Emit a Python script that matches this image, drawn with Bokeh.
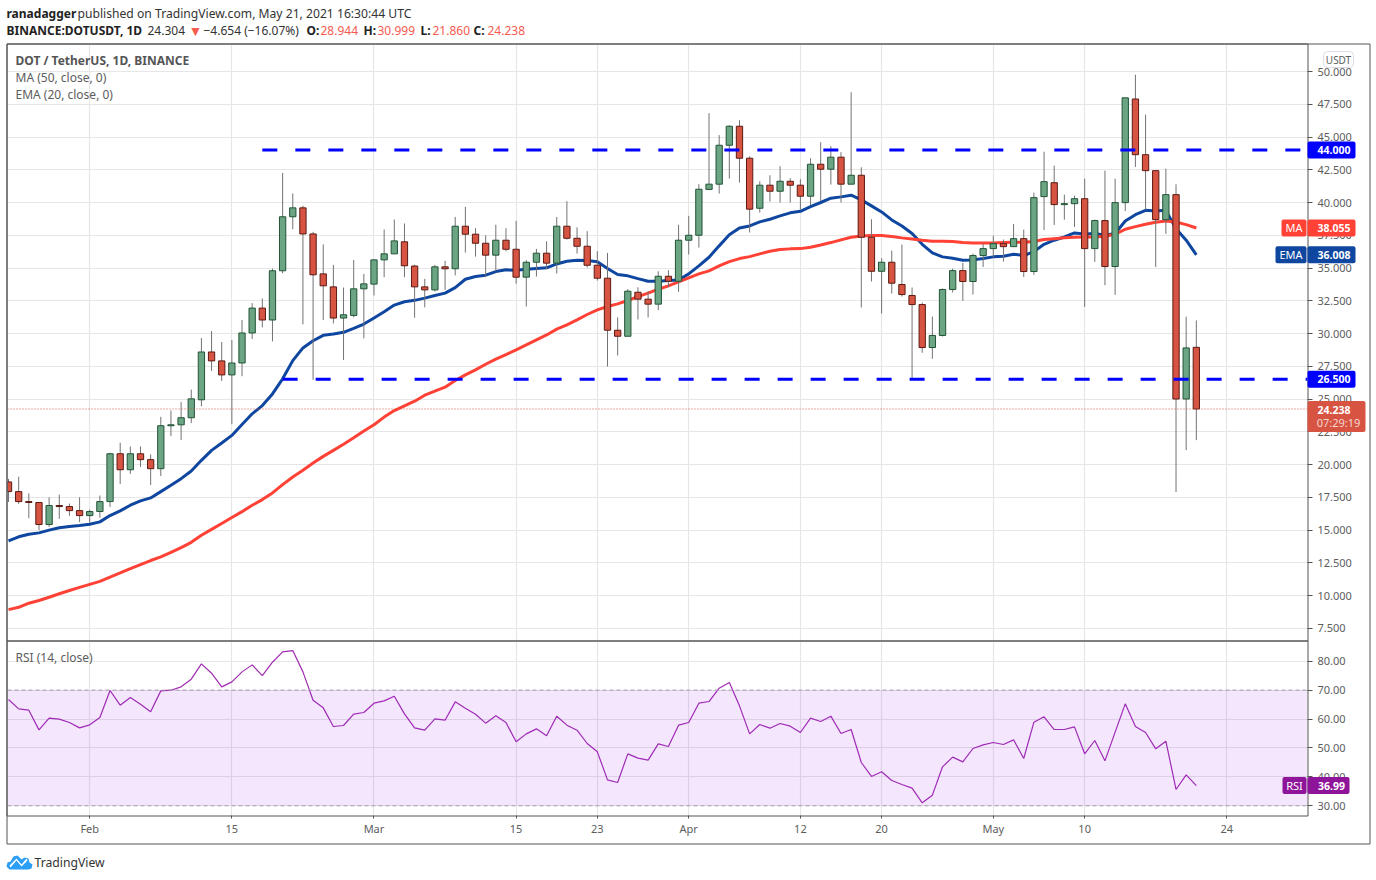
from bokeh.plotting import figure
from bokeh.layouts import column
from bokeh.models import (Range1d, FixedTicker, NumeralTickFormatter, Label, BoxAnnotation, Span,
                          PolyAnnotation, ColumnDataSource)
from bokeh.embed import file_html
from bokeh.resources import INLINE

# daily candles, first one is 24 Jan 2021, last one 21 May 2021
opens = [18.67,17.93,17.17,17.10,15.42,16.87,16.79,16.48,16.10,16.41,17.17,20.82,19.60,20.82,20.37,19.68,22.96,23.03,23.57,24.94,
         28.59,27.91,26.84,27.75,30.04,31.94,31.03,34.79,38.91,39.59,37.60,34.55,33.56,31.18,31.38,33.41,33.77,35.62,36.08,37.00,
         35.15,33.56,33.33,35.09,34.94,38.19,37.58,36.89,35.98,37.12,36.43,34.30,35.44,36.13,35.37,38.19,37.27,36.66,35.21,34.22,
         30.25,29.79,33.15,32.62,32.24,34.37,33.99,37.12,37.50,41.00,41.40,44.37,45.82,43.38,39.56,41.32,40.86,41.62,41.32,40.48,
         42.92,42.54,43.46,41.40,42.08,37.35,34.75,35.44,33.74,32.90,32.21,28.93,29.85,33.36,34.80,33.97,35.95,36.48,36.86,36.63,
         37.24,34.73,40.45,41.51,39.84,39.91,40.29,36.48,38.62,35.11,39.99,47.90,43.65,42.43,38.69,40.60,25.00,28.944]
closes = [17.93,17.17,17.10,15.42,16.87,16.79,16.48,16.10,16.41,17.17,20.82,19.60,20.82,20.37,19.68,22.96,23.03,23.57,25.01,28.59,
          27.91,26.84,27.75,30.04,31.94,31.03,34.79,38.91,39.59,37.60,34.48,33.64,31.18,31.43,33.41,33.79,35.62,36.08,37.07,35.17,
          33.56,33.33,35.09,34.94,38.19,37.58,36.89,35.98,37.12,36.43,34.30,35.44,36.13,35.37,38.19,37.27,36.66,35.21,34.22,30.25,
          29.79,33.23,32.62,32.24,34.37,33.99,37.12,37.50,41.01,41.40,44.37,45.82,43.38,39.49,41.32,40.86,41.62,41.32,40.48,42.92,
          42.54,43.46,41.40,42.08,37.35,34.75,35.44,33.84,32.97,32.21,28.93,29.85,33.36,34.80,33.97,35.95,36.48,36.86,36.63,37.24,
          34.73,40.37,41.59,39.84,39.91,40.29,36.48,38.62,35.11,39.99,47.99,43.65,42.43,38.69,40.60,25.00,28.90,24.238]
highs = [18.90,19.07,17.80,17.10,17.50,17.70,17.02,17.50,16.56,17.63,20.90,21.66,21.38,21.38,20.77,23.64,24.12,24.78,25.72,29.66,
         30.19,29.35,29.50,31.03,32.32,32.67,34.96,42.26,40.69,39.75,37.76,36.80,35.24,33.51,35.62,34.55,35.65,37.94,38.70,38.40,
         35.24,34.17,35.24,35.55,38.90,39.67,38.04,37.50,38.30,38.04,38.60,35.60,36.46,37.04,38.90,40.10,38.10,37.81,36.28,36.15,
         31.24,33.38,33.53,33.23,34.75,34.83,38.30,38.98,41.40,46.82,45.14,45.90,46.28,43.53,41.62,42.08,42.77,41.85,41.78,43.38,
         44.60,44.30,43.84,48.42,42.69,38.72,35.75,36.33,36.79,33.51,32.36,31.30,33.43,34.96,35.39,36.10,36.86,37.47,37.17,38.36,
         37.93,40.75,43.88,42.81,40.60,40.52,41.82,38.69,42.43,41.82,47.99,49.75,46.70,42.43,42.58,41.39,31.28,30.999]
lows = [17.14,16.99,15.90,15.00,15.24,15.85,16.08,15.60,15.55,15.93,16.76,18.52,19.28,19.81,18.44,19.12,22.17,21.87,23.16,24.45,
        27.14,26.38,23.08,26.74,29.58,30.47,29.40,34.60,37.96,30.70,26.46,31.03,30.77,27.98,31.23,29.63,32.90,34.30,36.08,34.30,
        31.20,32.00,33.20,33.33,34.43,36.18,35.87,34.30,34.75,36.28,33.81,32.06,34.35,34.91,34.58,37.17,36.10,35.03,34.04,27.48,
        28.32,29.79,31.07,31.22,31.78,33.53,33.18,36.03,36.56,40.94,40.68,41.83,41.52,37.71,39.23,40.07,40.00,40.00,39.41,39.79,
        40.10,41.37,40.00,41.40,31.98,33.97,31.52,33.05,32.82,26.50,28.53,28.07,29.77,33.13,32.49,32.97,35.08,35.80,35.49,36.63,
        34.32,34.47,37.90,38.29,38.69,38.13,32.03,35.47,33.69,32.95,39.35,42.71,39.45,35.08,37.60,17.90,21.10,21.860]
ema20 = [14.17,14.48,14.68,14.78,14.99,15.17,15.27,15.34,15.44,15.62,16.10,16.46,16.89,17.22,17.45,17.93,18.41,18.92,19.50,20.32,
         21.08,21.64,22.22,23.06,23.87,24.50,25.39,26.54,27.93,28.90,29.45,29.86,29.96,30.09,30.39,30.72,31.18,31.66,32.17,32.42,
         32.53,32.70,32.90,33.08,33.50,34.14,34.35,34.45,34.73,34.86,34.83,34.91,34.96,35.01,35.31,35.52,35.60,35.57,35.47,34.96,
         34.50,34.40,34.19,33.99,33.99,34.04,34.09,34.55,35.16,35.82,36.69,37.53,38.06,38.21,38.52,38.72,38.98,39.21,39.33,39.69,
         40.00,40.33,40.43,40.56,40.20,39.74,39.28,38.67,38.21,37.63,36.81,36.15,35.85,35.74,35.59,35.62,35.72,35.85,35.90,36.05,
         35.95,36.25,36.81,37.12,37.37,37.68,37.60,37.63,37.50,37.63,38.59,39.07,39.40,39.35,39.40,38.00,37.12,36.008]
ma50 = [8.92,9.10,9.41,9.62,9.87,10.13,10.38,10.62,10.85,11.08,11.41,11.72,12.05,12.36,12.67,12.95,13.30,13.65,14.06,14.60,
        15.05,15.50,15.95,16.40,16.89,17.32,17.83,18.46,19.05,19.56,20.11,20.62,21.08,21.54,22.04,22.55,23.03,23.62,24.12,24.48,
        24.83,25.29,25.60,25.90,26.41,26.84,27.22,27.65,28.04,28.39,28.75,29.13,29.51,29.89,30.33,30.66,31.04,31.45,31.80,32.06,
        32.26,32.52,32.82,33.08,33.38,33.63,33.94,34.25,34.55,34.78,35.16,35.49,35.72,35.87,36.08,36.28,36.41,36.46,36.48,36.59,
        36.76,36.94,37.15,37.35,37.45,37.48,37.48,37.40,37.30,37.22,37.12,37.04,37.04,37.02,36.94,36.91,36.91,36.91,36.94,36.96,
        36.96,37.02,37.17,37.24,37.30,37.35,37.37,37.37,37.42,37.57,37.96,38.16,38.34,38.49,38.59,38.51,38.31,38.055]
rsi14 = [66.75,63.50,63.06,56.26,60.30,59.95,58.80,56.95,58.00,60.53,69.86,64.80,67.44,65.13,62.49,69.74,69.97,71.13,73.78,79.08,
         75.85,71.13,72.85,76.31,78.73,75.04,79.65,83.22,83.68,76.31,66.52,63.87,57.42,57.76,61.68,62.26,65.48,66.29,67.90,61.80,
         56.95,56.15,60.07,59.61,65.94,63.75,61.68,58.57,61.10,58.80,52.12,54.88,56.61,54.19,60.99,57.88,56.15,51.54,48.66,38.98,
         38.06,47.97,46.47,45.78,51.43,50.50,57.88,58.80,65.48,66.06,70.67,72.62,64.56,54.88,58.10,56.84,58.45,57.53,55.34,60.30,
         59.14,60.99,55.00,56.38,44.97,40.14,41.75,38.75,37.37,36.10,31.03,33.68,43.48,46.82,45.20,49.81,51.08,51.89,51.20,52.81,
         46.36,58.92,60.76,56.38,56.38,57.30,47.97,52.58,45.55,55.46,65.25,57.42,55.34,49.70,52.35,35.64,40.71,36.99]
days = list(range(len(closes)))

tick_days = [8, 22, 36, 50, 58, 67, 78, 86, 97, 106, 120]
tick_labels = ["Feb", "15", "Mar", "15", "23", "Apr", "12", "20", "May", "10", "24"]
price_ticks = [7.5, 10, 12.5, 15, 17.5, 20, 22.5, 25, 27.5, 30, 32.5, 35, 37.5, 40, 42.5, 45, 47.5, 50]
rsi_ticks = [30, 40, 50, 60, 70, 80]
level_values = [44.0, 26.5]
level_starts = [25, 27]
last_price = 24.238
last_ma = 38.055
last_ema = 36.008
last_rsi = 36.99

UP, UP_B = "#6ba583", "#225437"
DN, DN_B = "#d75442", "#5b1a13"
WICK = "#737375"
EMA_C, MA_C = "#0f47a0", "#ff4136"
LEVEL_C = "#0000ff"
RSI_C, RSI_TAG = "#a02cb0", "#8e1599"
GRID = "#e6e6e6"
AXIS = "#555555"
TXT = "#5d5d5d"
FONT = "Noto Sans"
PX_PER_PRICE = 13.1
PX_PER_RSI = 2.892


def py(v):
    return 71 + (50 - v) * PX_PER_PRICE


def ry(v):
    return 660.7 + (80 - v) * PX_PER_RSI


def style(p):
    p.outline_line_color = None
    p.xgrid.ticker = FixedTicker(ticks=tick_days)
    p.xgrid.grid_line_color = GRID
    p.ygrid.grid_line_color = GRID
    p.xgrid.grid_line_width = 1.2
    p.ygrid.grid_line_width = 1.2
    ax = p.yaxis[0]
    ax.formatter = NumeralTickFormatter(format="0.000")
    ax.axis_line_color = None
    ax.major_tick_line_color = AXIS
    ax.major_tick_out = 5
    ax.major_tick_in = 0
    ax.minor_tick_line_color = None
    ax.major_label_text_color = TXT
    ax.major_label_text_font = FONT
    ax.major_label_text_font_size = "11px"
    ax.major_label_standoff = 5


# ---------------------------------------------------------------- price pane
p = figure(width=1376, height=641, output_backend="svg", toolbar_location=None, x_range=Range1d(-0.1, 127.95),
           y_range=Range1d(50 - (640 - 71) / PX_PER_PRICE, 50 + (71 - 44) / PX_PER_PRICE), y_axis_location="right",
           x_axis_location=None, min_border_left=7, min_border_right=69, min_border_top=44, min_border_bottom=1)
p.yaxis[0].ticker = FixedTicker(ticks=price_ticks)
style(p)

src = ColumnDataSource(dict(x=days, o=opens, h=highs, l=lows, c=closes, ema=ema20, ma=ma50,
                            b=[min(a, b) for a, b in zip(opens, closes)], t=[max(a, b) for a, b in zip(opens, closes)],
                            fill=[UP if c >= o else DN for o, c in zip(opens, closes)],
                            edge=[UP_B if c >= o else DN_B for o, c in zip(opens, closes)]))
p.line("x", "ema", source=src, line_color=EMA_C, line_width=3)
p.line("x", "ma", source=src, line_color=MA_C, line_width=3)
p.segment("x", "h", "x", "l", source=src, line_color=WICK, line_width=1)
p.vbar("x", width=0.62, bottom="b", top="t", source=src, fill_color="fill", line_color="edge", line_width=1)

for lv, st in zip(level_values, level_starts):
    p.line([st, 127.95], [lv, lv], line_color=LEVEL_C, line_width=3, line_dash="15 18")
p.add_layout(Span(location=last_price, dimension="width", line_color=DN, line_width=1, line_dash="1 2"))

# ---------------------------------------------------------------- RSI pane
q = figure(width=1376, height=239, output_backend="svg", toolbar_location=None, x_range=p.x_range,
           y_range=Range1d(80 - (815 - 660.7) / PX_PER_RSI, 80 + (660.7 - 641) / PX_PER_RSI), y_axis_location="right",
           min_border_left=7, min_border_right=69, min_border_top=0, min_border_bottom=65)
q.yaxis[0].ticker = FixedTicker(ticks=rsi_ticks)
style(q)
q.yaxis[0].formatter = NumeralTickFormatter(format="0.00")
xa = q.xaxis[0]
xa.ticker = FixedTicker(ticks=tick_days)
xa.major_label_overrides = {d: s for d, s in zip(tick_days, tick_labels)}
xa.axis_line_color = None
xa.major_tick_line_color = AXIS
xa.major_tick_out = 3
xa.major_tick_in = 0
xa.minor_tick_line_color = None
xa.major_label_text_color = TXT
xa.major_label_text_font = FONT
xa.major_label_text_font_size = "11px"
xa.major_label_standoff = 2

q.add_layout(BoxAnnotation(bottom=30, top=70, fill_color="#9b26ee", fill_alpha=0.115, line_alpha=0))
for lv in (30, 70):
    q.add_layout(Span(location=lv, dimension="width", line_color="#a69bb0", line_width=1, line_dash="4 3"))
q.line(days, rsi14, line_color=RSI_C, line_width=1.2)

# ---------------------------------------------------------------- page-wide layer: frame, header, tags, logo
o = figure(width=1376, height=880, output_backend="svg", toolbar_location=None, x_range=Range1d(0, 1376),
           y_range=Range1d(880, 0), x_axis_location=None, y_axis_location=None, min_border=0,
           background_fill_color=None, border_fill_color=None, outline_line_color=None,
           styles={"position": "absolute", "left": "0", "top": "0"})
o.grid.visible = False


def txt(x, y, s, color=TXT, size="12px", style_="normal", align="left"):
    o.add_layout(Label(x=x, y=y, x_units="canvas", y_units="canvas", text=s, text_color=color,
                       text_font=FONT, text_font_size=size, text_font_style=style_, text_align=align,
                       text_baseline="middle"))


def box(left, right, top, bottom, fill=None, line=None, radius=0):
    o.add_layout(BoxAnnotation(left=left, right=right, top=top, bottom=bottom, left_units="canvas",
                               right_units="canvas", top_units="canvas", bottom_units="canvas",
                               fill_color=fill, fill_alpha=1 if fill else 0, line_color=line,
                               line_alpha=1 if line else 0, border_radius=radius))


def tag(y, s, right, color, name=None, name_left=None, x_text=1333.5, h=17):
    box(1307, right, y - h / 2, y + h / 2, color, radius=2)
    if name:
        box(name_left, 1306, y - h / 2, y + h / 2, color, radius=2)
        txt((name_left + 1306) / 2, y, name, "white", "11px", align="center")
    txt(x_text, y, s, "white", "10.5px", "bold", "center")


# frame lines
box(6.5, 1369.5, 43.5, 843.5, None, AXIS)
box(6.5, 1307.5, 43.5, 640.5, None, AXIS)
box(6.5, 1307.5, 640.5, 815.5, None, AXIS)

# header and legend
txt(6, 12.5, "ranadagger", "#222222", "12px", "bold")
txt(77, 12.5, "published on TradingView.com, May 21, 2021 16:30:44 UTC", "#333333", "12.15px")
txt(6, 29.5, "BINANCE:DOTUSDT, 1D", "#222222", "12px", "bold")
for x, s, c, st, fs in [(147, "24.304", "#333333", "normal", "12px"), (188, "\u25bc", "#f55b4f", "normal", "14px"),
                        (203, "\u22124.654 (\u221216.07%)", "#333333", "normal", "12px"),
                        (306, "O:", "#222222", "bold", "12px"), (320, "28.944", "#f55b4f", "normal", "12px"),
                        (363, "H:", "#222222", "bold", "12px"), (377, "30.999", "#f55b4f", "normal", "12px"),
                        (420, "L:", "#222222", "bold", "12px"), (432, "21.860", "#f55b4f", "normal", "12px"),
                        (473, "C:", "#222222", "bold", "12px"), (487, "24.238", "#f55b4f", "normal", "12px")]:
    txt(x, 29.5, s, c, fs, st)
txt(15, 59.5, "DOT / TetherUS, 1D, BINANCE", "#555555", "12px", "bold")
txt(15, 76.5, "MA (50, close, 0)", TXT, "12px")
txt(15, 93.5, "EMA (20, close, 0)", TXT, "12px")
txt(15, 656.5, "RSI (14, close)", TXT, "12px")

box(1323, 1353, 51, 67, "white", "#dcdde6", radius=4)
txt(1338, 59, "USDT", TXT, "10px", align="center")

tag(py(level_values[0]), "44.000", 1355, LEVEL_C)
tag(py(level_values[1]), "26.500", 1355, LEVEL_C)
tag(py(last_ma), "38.055", 1355, MA_C, name="MA", name_left=1281)
tag(py(last_ema), "36.008", 1355, EMA_C, name="EMA", name_left=1275)
box(1307, 1365, py(last_price) - 8, py(last_price) + 23, DN, radius=2)
txt(1333.5, py(last_price) + 1, "24.238", "white", "10.5px", "bold", "center")
txt(1338, py(last_price) + 14, "07:29:19", "#f6d7d2", "11px", align="center")
tag(ry(last_rsi), "36.99", 1349, RSI_TAG, name="RSI", name_left=1282, x_text=1331)

# TradingView logo
o.add_layout(PolyAnnotation(xs=[6, 7, 10, 13, 17, 21, 24, 28, 29, 32, 31, 28, 9],
                            ys=[866, 862, 861, 856, 855, 859, 857, 858, 862, 864, 868, 869, 869],
                            xs_units="canvas", ys_units="canvas", fill_color="#2b9ff5", fill_alpha=1, line_alpha=0))
o.add_layout(PolyAnnotation(xs=[9, 16, 21, 26, 27, 21, 16, 10],
                            ys=[865, 858, 864, 858, 860, 866, 860, 867],
                            xs_units="canvas", ys_units="canvas", fill_color="white", fill_alpha=1, line_alpha=0))
txt(34, 861.5, "TradingView", "#333333", "12.2px")

page = column(p, q, spacing=0)
open("out.html", "w").write(file_html([page, o], INLINE))
